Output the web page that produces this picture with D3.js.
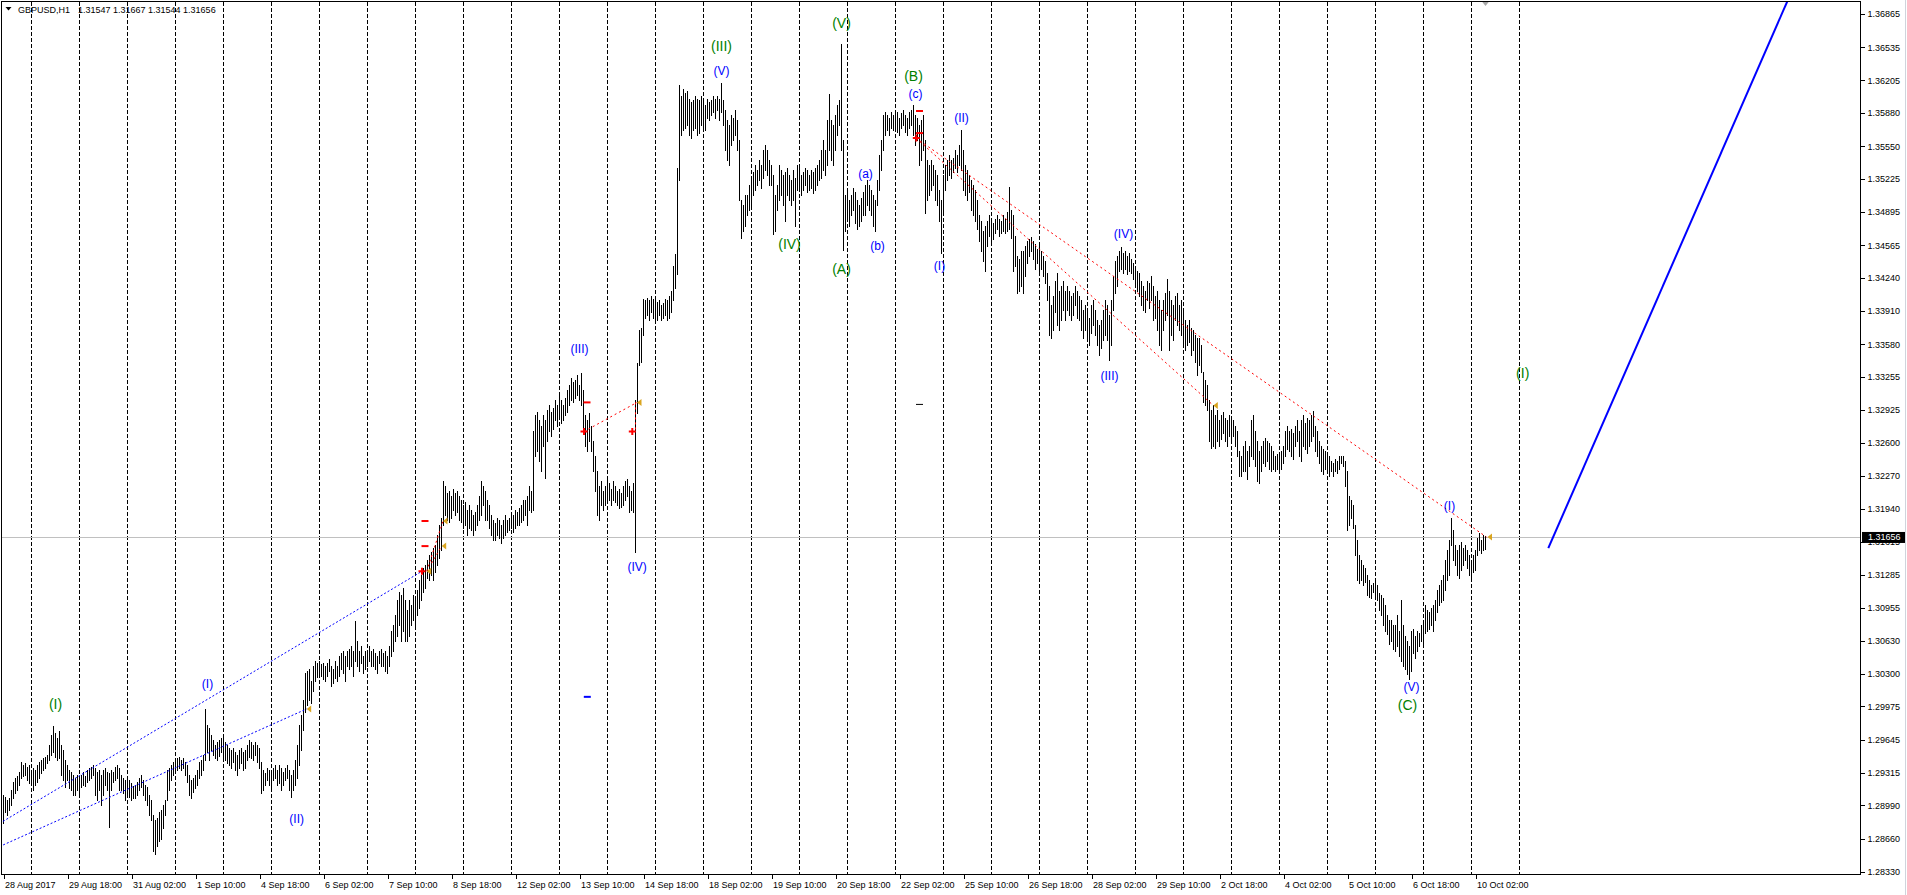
<!DOCTYPE html>
<html><head><meta charset="utf-8">
<script src="https://cdn.jsdelivr.net/npm/d3@7"></script>
<style>
html,body{margin:0;padding:0;background:#fff;overflow:hidden;}
svg{display:block;}
text{font-family:"Liberation Sans",Arial,sans-serif;}
</style></head><body>
<svg id="chart" width="1907" height="895"></svg>
<script>
// ---------------- DATA ----------------
const symbolTitle = "GBPUSD,H1";
const lastOHLC = [1.31547, 1.31667, 1.31544, 1.31656];
const bidPrice = 1.31656;

// H1 bar highs / lows (bar 0 = 28 Aug 2017 10:00)
const highs = [
1.2909,1.2907,1.2904,1.2906,1.2914,1.2922,1.2926,1.2928,1.2932,1.2942,
1.2939,1.2941,1.2937,1.2939,1.2934,1.2936,1.2934,1.2939,1.2942,1.2944,
1.2946,1.2947,1.2949,1.2959,1.2969,1.2978,1.2971,1.2966,1.2973,1.2959,
1.2954,1.2944,1.2939,1.2934,1.2932,1.2929,1.2926,1.2929,1.2924,1.2929,
1.2932,1.2928,1.2934,1.2936,1.2937,1.2939,1.2936,1.2932,1.2934,1.2929,
1.2934,1.2936,1.2932,1.2931,1.2934,1.2932,1.2937,1.2939,1.2936,1.2929,
1.2926,1.2924,1.2926,1.2924,1.2921,1.2918,1.2919,1.2922,1.2926,1.2929,
1.2924,1.2919,1.2917,1.2909,1.2904,1.2889,1.2884,1.2886,1.2892,1.2894,
1.2899,1.2904,1.2934,1.2936,1.2939,1.2942,1.2944,1.2946,1.2947,1.2944,
1.2946,1.2942,1.2939,1.2929,1.2924,1.2926,1.2929,1.2934,1.2942,1.2944,
1.2949,1.2995,1.2979,1.2976,1.2969,1.2964,1.2959,1.2962,1.2964,1.2966,
1.2966,1.2962,1.2959,1.2956,1.2954,1.2956,1.2952,1.2949,1.2954,1.2956,
1.2952,1.2954,1.2959,1.2964,1.2962,1.2959,1.2962,1.2959,1.2956,1.2942,
1.2934,1.2931,1.2936,1.2934,1.2932,1.2936,1.2939,1.2934,1.2939,1.2936,
1.2932,1.2936,1.2939,1.2934,1.2929,1.2934,1.2944,1.2959,1.2979,1.2989,
1.3004,1.3031,1.3033,1.3035,1.3023,1.3038,1.3043,1.3041,1.3043,1.3040,
1.3041,1.3038,1.3041,1.3045,1.3038,1.3035,1.3043,1.3038,1.3048,1.3051,
1.3053,1.3048,1.3053,1.3055,1.3058,1.3053,1.3082,1.3063,1.3053,1.3058,
1.3048,1.3053,1.3051,1.3058,1.3053,1.3055,1.3051,1.3048,1.3053,1.3055,
1.3051,1.3053,1.3048,1.3058,1.3073,1.3078,1.3088,1.3103,1.3111,1.3108,
1.3115,1.3103,1.3093,1.3103,1.3098,1.3108,1.3105,1.3113,1.3123,1.3128,
1.3135,1.3138,1.3143,1.3148,1.3151,1.3155,1.3158,1.3168,1.3178,1.3185,
1.3222,1.3217,1.3210,1.3212,1.3207,1.3214,1.3210,1.3212,1.3207,1.3203,
1.3198,1.3201,1.3193,1.3198,1.3193,1.3188,1.3191,1.3198,1.3207,1.3222,
1.3217,1.3212,1.3203,1.3198,1.3188,1.3183,1.3180,1.3185,1.3183,1.3178,
1.3183,1.3188,1.3183,1.3185,1.3191,1.3188,1.3193,1.3191,1.3195,1.3198,
1.3203,1.3203,1.3207,1.3217,1.3212,1.3272,1.3287,1.3290,1.3282,1.3277,
1.3287,1.3282,1.3292,1.3297,1.3290,1.3294,1.3302,1.3297,1.3307,1.3302,
1.3297,1.3304,1.3312,1.3317,1.3324,1.3320,1.3322,1.3327,1.3317,1.3329,
1.3312,1.3287,1.3282,1.3289,1.3277,1.3262,1.3247,1.3232,1.3217,1.3222,
1.3212,1.3217,1.3224,1.3220,1.3214,1.3222,1.3217,1.3212,1.3214,1.3210,
1.3217,1.3222,1.3224,1.3217,1.3212,1.3220,1.3302,1.3339,1.3372,1.3374,
1.3403,1.3402,1.3404,1.3402,1.3406,1.3403,1.3402,1.3400,1.3402,1.3397,
1.3399,1.3403,1.3402,1.3406,1.3411,1.3436,1.3448,1.3533,1.3616,1.3605,
1.3612,1.3608,1.3610,1.3602,1.3599,1.3601,1.3605,1.3602,1.3601,1.3605,
1.3601,1.3596,1.3602,1.3599,1.3601,1.3605,1.3602,1.3605,1.3602,1.3618,
1.3601,1.3591,1.3581,1.3576,1.3586,1.3583,1.3591,1.3581,1.3561,1.3501,
1.3496,1.3506,1.3506,1.3516,1.3521,1.3529,1.3536,1.3531,1.3541,1.3536,
1.3551,1.3556,1.3551,1.3541,1.3536,1.3526,1.3506,1.3516,1.3536,1.3531,
1.3526,1.3529,1.3533,1.3526,1.3521,1.3531,1.3523,1.3536,1.3533,1.3526,
1.3529,1.3533,1.3531,1.3526,1.3531,1.3529,1.3533,1.3536,1.3541,1.3551,
1.3561,1.3551,1.3581,1.3607,1.3581,1.3576,1.3586,1.3596,1.3601,1.3657,
1.3561,1.3506,1.3511,1.3501,1.3506,1.3513,1.3509,1.3501,1.3496,1.3503,
1.3509,1.3516,1.3521,1.3516,1.3511,1.3506,1.3501,1.3521,1.3546,1.3561,
1.3586,1.3589,1.3586,1.3583,1.3589,1.3586,1.3591,1.3589,1.3583,1.3588,
1.3591,1.3586,1.3583,1.3589,1.3591,1.3596,1.3586,1.3583,1.3576,1.3581,
1.3586,1.3561,1.3541,1.3536,1.3541,1.3536,1.3531,1.3526,1.3511,1.3501,
1.3526,1.3536,1.3541,1.3546,1.3541,1.3543,1.3551,1.3546,1.3556,1.3571,
1.3551,1.3536,1.3531,1.3526,1.3521,1.3516,1.3511,1.3501,1.3486,1.3481,
1.3471,1.3476,1.3481,1.3486,1.3481,1.3479,1.3483,1.3486,1.3483,1.3481,
1.3486,1.3483,1.3489,1.3514,1.3491,1.3486,1.3466,1.3446,1.3443,1.3451,
1.3451,1.3456,1.3461,1.3463,1.3465,1.3461,1.3458,1.3453,1.3456,1.3451,
1.3446,1.3441,1.3429,1.3416,1.3397,1.3406,1.3421,1.3429,1.3411,1.3416,
1.3421,1.3411,1.3416,1.3411,1.3406,1.3409,1.3416,1.3411,1.3406,1.3402,
1.3392,1.3397,1.3392,1.3384,1.3397,1.3402,1.3392,1.3382,1.3377,1.3382,
1.3392,1.3402,1.3397,1.3387,1.3402,1.3426,1.3441,1.3446,1.3451,1.3455,
1.3449,1.3451,1.3446,1.3449,1.3443,1.3439,1.3436,1.3431,1.3429,1.3421,
1.3416,1.3411,1.3421,1.3419,1.3426,1.3416,1.3406,1.3411,1.3402,1.3392,
1.3402,1.3409,1.3423,1.3411,1.3402,1.3397,1.3406,1.3409,1.3397,1.3402,
1.3392,1.3382,1.3377,1.3382,1.3374,1.3372,1.3367,1.3364,1.3364,1.3357,
1.3330,1.3322,1.3317,1.3302,1.3292,1.3297,1.3287,1.3292,1.3282,1.3287,
1.3290,1.3284,1.3282,1.3287,1.3284,1.3282,1.3277,1.3272,1.3252,1.3247,
1.3257,1.3262,1.3252,1.3257,1.3282,1.3287,1.3272,1.3262,1.3252,1.3257,
1.3262,1.3265,1.3262,1.3260,1.3257,1.3252,1.3247,1.3249,1.3247,1.3252,
1.3257,1.3272,1.3277,1.3272,1.3274,1.3270,1.3277,1.3282,1.3272,1.3282,
1.3287,1.3280,1.3284,1.3282,1.3287,1.3291,1.3277,1.3272,1.3262,1.3257,
1.3254,1.3252,1.3250,1.3247,1.3242,1.3240,1.3244,1.3242,1.3247,1.3247,
1.3247,1.3242,1.3232,1.3207,1.3203,1.3198,1.3178,1.3163,1.3148,1.3143,
1.3138,1.3135,1.3128,1.3123,1.3118,1.3120,1.3123,1.3118,1.3110,1.3108,
1.3105,1.3098,1.3088,1.3083,1.3083,1.3078,1.3078,1.3088,1.3073,1.3103,
1.3078,1.3068,1.3063,1.3058,1.3073,1.3075,1.3068,1.3073,1.3071,1.3078,
1.3083,1.3098,1.3093,1.3091,1.3095,1.3098,1.3103,1.3113,1.3118,1.3123,
1.3128,1.3143,1.3153,1.3163,1.3185,1.3173,1.3158,1.3153,1.3158,1.3161,
1.3155,1.3158,1.3153,1.3148,1.3143,1.3148,1.3153,1.3165,1.3170,1.3163,
1.31680,1.31667];

const lows = [
1.2881,1.2892,1.2889,1.2894,1.2899,1.2906,1.2911,1.2914,1.2919,1.2926,
1.2928,1.2929,1.2924,1.2921,1.2921,1.2914,1.2919,1.2922,1.2926,1.2931,
1.2934,1.2936,1.2941,1.2944,1.2949,1.2952,1.2947,1.2944,1.2946,1.2929,
1.2924,1.2917,1.2924,1.2916,1.2914,1.2909,1.2909,1.2914,1.2911,1.2917,
1.2919,1.2918,1.2922,1.2924,1.2926,1.2929,1.2909,1.2904,1.2914,1.2899,
1.2909,1.2919,1.2914,1.2877,1.2914,1.2922,1.2924,1.2926,1.2914,1.2914,
1.2911,1.2904,1.2909,1.2907,1.2904,1.2906,1.2906,1.2909,1.2914,1.2917,
1.2909,1.2904,1.2899,1.2889,1.2884,1.2854,1.2851,1.2859,1.2864,1.2866,
1.2876,1.2889,1.2904,1.2914,1.2924,1.2929,1.2932,1.2934,1.2936,1.2934,
1.2936,1.2929,1.2922,1.2909,1.2906,1.2912,1.2916,1.2919,1.2926,1.2929,
1.2934,1.2944,1.2952,1.2944,1.2954,1.2949,1.2946,1.2944,1.2948,1.2952,
1.2946,1.2944,1.2941,1.2939,1.2936,1.2942,1.2934,1.2929,1.2936,1.2941,
1.2934,1.2936,1.2944,1.2947,1.2946,1.2944,1.2949,1.2942,1.2936,1.2911,
1.2914,1.2919,1.2924,1.2919,1.2916,1.2924,1.2926,1.2919,1.2921,1.2914,
1.2919,1.2924,1.2926,1.2914,1.2907,1.2914,1.2919,1.2926,1.2939,1.2954,
1.2974,1.2992,1.2999,1.3004,1.3001,1.3013,1.3023,1.3027,1.3031,1.3028,
1.3025,1.3023,1.3028,1.3033,1.3018,1.3021,1.3026,1.3023,1.3028,1.3035,
1.3031,1.3023,1.3038,1.3035,1.3038,1.3028,1.3043,1.3038,1.3033,1.3041,
1.3031,1.3035,1.3038,1.3043,1.3038,1.3038,1.3035,1.3031,1.3041,1.3038,
1.3038,1.3033,1.3031,1.3038,1.3048,1.3053,1.3063,1.3068,1.3078,1.3063,
1.3073,1.3063,1.3063,1.3068,1.3078,1.3083,1.3078,1.3088,1.3095,1.3103,
1.3111,1.3115,1.3125,1.3123,1.3128,1.3123,1.3131,1.3138,1.3145,1.3153,
1.3178,1.3188,1.3183,1.3181,1.3185,1.3193,1.3188,1.3191,1.3183,1.3181,
1.3175,1.3178,1.3168,1.3175,1.3173,1.3168,1.3173,1.3178,1.3183,1.3188,
1.3198,1.3183,1.3183,1.3175,1.3168,1.3163,1.3163,1.3168,1.3165,1.3160,
1.3165,1.3168,1.3171,1.3173,1.3175,1.3171,1.3175,1.3178,1.3178,1.3181,
1.3183,1.3188,1.3178,1.3193,1.3191,1.3193,1.3247,1.3252,1.3242,1.3232,
1.3257,1.3225,1.3262,1.3272,1.3267,1.3274,1.3282,1.3277,1.3284,1.3280,
1.3282,1.3287,1.3290,1.3297,1.3302,1.3300,1.3304,1.3307,1.3302,1.3297,
1.3272,1.3257,1.3252,1.3262,1.3252,1.3232,1.3212,1.3188,1.3183,1.3198,
1.3193,1.3198,1.3204,1.3203,1.3198,1.3203,1.3201,1.3198,1.3195,1.3196,
1.3198,1.3203,1.3207,1.3191,1.3193,1.3191,1.3151,1.3289,1.3337,1.3340,
1.3367,1.3384,1.3387,1.3382,1.3390,1.3384,1.3380,1.3382,1.3387,1.3382,
1.3384,1.3387,1.3382,1.3384,1.3390,1.3402,1.3414,1.3428,1.3521,1.3566,
1.3571,1.3573,1.3576,1.3566,1.3563,1.3571,1.3573,1.3566,1.3568,1.3576,
1.3571,1.3571,1.3583,1.3581,1.3586,1.3589,1.3583,1.3591,1.3581,1.3589,
1.3576,1.3551,1.3541,1.3536,1.3556,1.3561,1.3566,1.3551,1.3501,1.3464,
1.3471,1.3476,1.3486,1.3491,1.3496,1.3506,1.3511,1.3516,1.3521,1.3513,
1.3523,1.3531,1.3526,1.3516,1.3516,1.3468,1.3471,1.3491,1.3501,1.3506,
1.3496,1.3481,1.3506,1.3501,1.3496,1.3501,1.3476,1.3511,1.3513,1.3506,
1.3511,1.3516,1.3509,1.3511,1.3513,1.3508,1.3511,1.3516,1.3521,1.3523,
1.3531,1.3526,1.3536,1.3551,1.3541,1.3536,1.3551,1.3566,1.3576,1.3551,
1.3452,1.3471,1.3481,1.3476,1.3486,1.3491,1.3479,1.3473,1.3476,1.3481,
1.3486,1.3486,1.3496,1.3491,1.3486,1.3476,1.3471,1.3496,1.3511,1.3531,
1.3551,1.3566,1.3571,1.3566,1.3573,1.3571,1.3573,1.3569,1.3566,1.3573,
1.3576,1.3569,1.3566,1.3573,1.3576,1.3566,1.3556,1.3561,1.3536,1.3541,
1.3551,1.3488,1.3501,1.3506,1.3511,1.3516,1.3501,1.3496,1.3481,1.3449,
1.3486,1.3511,1.3521,1.3526,1.3523,1.3529,1.3533,1.3529,1.3536,1.3531,
1.3511,1.3506,1.3501,1.3509,1.3491,1.3486,1.3481,1.3473,1.3461,1.3451,
1.3441,1.3431,1.3456,1.3466,1.3461,1.3463,1.3469,1.3473,1.3466,1.3469,
1.3471,1.3469,1.3471,1.3473,1.3464,1.3431,1.3436,1.3409,1.3411,1.3416,
1.3409,1.3426,1.3439,1.3446,1.3451,1.3443,1.3433,1.3439,1.3429,1.3433,
1.3426,1.3419,1.3402,1.3367,1.3364,1.3372,1.3390,1.3377,1.3372,1.3382,
1.3392,1.3382,1.3392,1.3387,1.3382,1.3387,1.3397,1.3384,1.3382,1.3372,
1.3364,1.3372,1.3362,1.3357,1.3369,1.3377,1.3367,1.3357,1.3347,1.3354,
1.3362,1.3367,1.3362,1.3342,1.3357,1.3392,1.3409,1.3416,1.3431,1.3433,
1.3429,1.3433,1.3428,1.3431,1.3429,1.3423,1.3419,1.3411,1.3406,1.3397,
1.3392,1.3390,1.3402,1.3394,1.3402,1.3382,1.3384,1.3372,1.3357,1.3352,
1.3372,1.3382,1.3387,1.3352,1.3367,1.3362,1.3382,1.3377,1.3372,1.3367,
1.3357,1.3352,1.3357,1.3360,1.3347,1.3352,1.3340,1.3327,1.3337,1.3330,
1.3300,1.3297,1.3292,1.3262,1.3255,1.3257,1.3255,1.3262,1.3257,1.3264,
1.3270,1.3262,1.3257,1.3267,1.3262,1.3267,1.3257,1.3247,1.3227,1.3227,
1.3232,1.3232,1.3224,1.3237,1.3247,1.3244,1.3237,1.3222,1.3220,1.3232,
1.3240,1.3237,1.3242,1.3234,1.3232,1.3234,1.3232,1.3234,1.3232,1.3234,
1.3240,1.3247,1.3254,1.3252,1.3247,1.3244,1.3257,1.3262,1.3247,1.3242,
1.3257,1.3254,1.3250,1.3257,1.3262,1.3267,1.3252,1.3247,1.3240,1.3232,
1.3229,1.3234,1.3232,1.3227,1.3232,1.3227,1.3232,1.3230,1.3234,1.3240,
1.3237,1.3217,1.3173,1.3178,1.3185,1.3175,1.3148,1.3123,1.3120,1.3123,
1.3118,1.3121,1.3108,1.3106,1.3105,1.3111,1.3108,1.3103,1.3093,1.3088,
1.3078,1.3073,1.3070,1.3060,1.3063,1.3055,1.3053,1.3058,1.3048,1.3043,
1.3038,1.3035,1.3030,1.3025,1.3033,1.3051,1.3046,1.3053,1.3058,1.3063,
1.3058,1.3071,1.3073,1.3075,1.3078,1.3073,1.3083,1.3091,1.3098,1.3101,
1.3103,1.3113,1.3123,1.3128,1.3158,1.3143,1.3138,1.3128,1.3125,1.3133,
1.3138,1.3143,1.3135,1.3128,1.3126,1.3131,1.3133,1.3148,1.3153,1.3150,
1.3153,1.31544];

const priceTicks = [1.36865,1.36535,1.36205,1.35880,1.35550,1.35225,1.34895,1.34565,1.34240,
  1.33910,1.33580,1.33255,1.32925,1.32600,1.32270,1.31940,1.31615,1.31285,1.30955,1.30630,
  1.30300,1.29975,1.29645,1.29315,1.28990,1.28660,1.28330];

const timeTickBars = [0,32,64,96,128,160,192,224,256,288,320,352,384,416,448,480,512,544,576,608,640,672,704,736];
const timeLabels = ["28 Aug 2017","29 Aug 18:00","31 Aug 02:00","1 Sep 10:00","4 Sep 18:00","6 Sep 02:00",
  "7 Sep 10:00","8 Sep 18:00","12 Sep 02:00","13 Sep 10:00","14 Sep 18:00","18 Sep 02:00","19 Sep 10:00",
  "20 Sep 18:00","22 Sep 02:00","25 Sep 10:00","26 Sep 18:00","28 Sep 02:00","29 Sep 10:00","2 Oct 18:00",
  "4 Oct 02:00","5 Oct 10:00","6 Oct 18:00","10 Oct 02:00"];
// bar index of each day start (period separators)
const dayStarts = [14,38,62,86,110,134,158,182,206,230,254,278,302,326,350,374,398,422,446,470,494,518,
  542,566,590,614,638,662,686,710,734,758];

// Elliott wave labels: [text, bar index, price]
const greenWaves = [["(I)",26,1.3000],["(III)",77,1.2823],["(III)",359,1.3655],["(V)",419,1.3678],
  ["(IV)",393,1.3458],["(A)",419,1.3433],["(B)",455,1.3625],["(C)",702,1.2999],["(I)",759.6,1.3329]];
const blueWaves = [["(I)",102,1.3020],["(II)",146.6,1.2885],["(III)",288,1.3353],["(IV)",316.8,1.3136],
  ["(V)",359,1.3630],["(a)",431,1.3527],["(b)",437,1.3456],["(c)",456,1.3607],["(I)",468,1.3436],
  ["(II)",479,1.3583],["(III)",553,1.3326],["(IV)",560,1.3468],["(V)",704,1.3017],["(I)",723,1.3197]];

// trend lines: [bar1, price1, bar2, price2]
const blueDotLines = [[-2,1.2881,209.25,1.3132],[-2,1.2858,151.6,1.2995]];
const redDotLines = [[211.6,1.3132,219.75,1.3182],[214,1.3140,219.1,1.3157],[290.25,1.3271,316.75,1.3300],
  [316,1.3300,316,1.3272],[456.25,1.3563,741.5,1.3166],[456.25,1.3563,604.9,1.3297]];
const blueSolidLines = [[772.4,1.3155,892.1,1.3700]];

// arrow objects: [bar, price]
const redCrosses = [[209.25,1.3132],[290.25,1.3271],[314.4,1.3271],[456.4,1.3563]];
const goldArrows = [[151.6,1.2995],[211.6,1.3132],[219.1,1.3157],[219.75,1.3182],[316.75,1.3300],[604.9,1.3297],[742,1.3166]];
const redDashes = [[210.75,1.3182],[210.75,1.3157],[291.75,1.3300],[458,1.3590],[458,1.3568]];
const blackDashes = [[458,1.3298]];
const blueDashes = [[291.9,1.3007]];

// ---------------- DRAW ----------------
const W = 1907, H = 895;
const plotR = 1860.5, plotB = 874.5;
const x = d3.scaleLinear().domain([0, 758]).range([3.5, 1519.5]);
const y = d3.scaleLinear().domain([1.28330, 1.36865]).range([871.7, 14]);

const svg = d3.select("#chart");
svg.append("rect").attr("width", W).attr("height", H).attr("fill", "#fff");
svg.append("defs").append("clipPath").attr("id", "clip")
  .append("rect").attr("x", 2).attr("y", 2).attr("width", plotR - 2.5).attr("height", plotB - 2.5);
const g = svg.append("g").attr("clip-path", "url(#clip)");

// period separators
g.append("g").selectAll("line").data(dayStarts).join("line")
  .attr("x1", d => x(d)).attr("x2", d => x(d)).attr("y1", 2).attr("y2", plotB)
  .attr("stroke", "#000").attr("stroke-width", 1).attr("stroke-dasharray", "4,2")
  .attr("shape-rendering", "crispEdges");

// bid line
g.append("line").attr("x1", 0).attr("x2", plotR).attr("y1", Math.round(y(bidPrice)) + 0.5).attr("y2", Math.round(y(bidPrice)) + 0.5)
  .attr("stroke", "#c0c0c0").attr("stroke-width", 1);

// bars
const bars = highs.map((h, i) => ({i, h, l: lows[i]}));
g.append("g").selectAll("line").data(bars).join("line")
  .attr("x1", d => x(d.i)).attr("x2", d => x(d.i))
  .attr("y1", d => Math.round(y(d.h))).attr("y2", d => Math.round(y(d.l)) + 1)
  .attr("stroke", "#000").attr("stroke-width", 1).attr("shape-rendering", "crispEdges");

// trend lines
function drawLines(data, color, width, dash) {
  g.append("g").selectAll("line").data(data).join("line")
    .attr("x1", d => x(d[0])).attr("y1", d => y(d[1]))
    .attr("x2", d => x(d[2])).attr("y2", d => y(d[3]))
    .attr("stroke", color).attr("stroke-width", width)
    .attr("stroke-dasharray", dash || null);
}
drawLines(blueDotLines, "#0000ff", 1, "2,2");
drawLines(redDotLines, "#ff0000", 1, "2,3");
drawLines(blueSolidLines, "#0000ff", 2, null);

// arrows / markers
g.append("g").selectAll("path").data(redCrosses).join("path")
  .attr("d", d => { const cx = x(d[0]), cy = y(d[1]); return `M${cx-3.5},${cy}H${cx+3.5}M${cx},${cy-3.5}V${cy+3.5}`; })
  .attr("stroke", "#ff0000").attr("stroke-width", 2).attr("fill", "none");
g.append("g").selectAll("path").data(goldArrows).join("path")
  .attr("d", d => { const cx = x(d[0]), cy = y(d[1]); return `M${cx},${cy}L${cx+4.5},${cy-3.5}L${cx+4.5},${cy+3.5}Z`; })
  .attr("fill", "#daa520");
function dashes(data, color, w) {
  g.append("g").selectAll("line").data(data).join("line")
    .attr("x1", d => x(d[0]) - 3.5).attr("x2", d => x(d[0]) + 3.5)
    .attr("y1", d => y(d[1])).attr("y2", d => y(d[1]))
    .attr("stroke", color).attr("stroke-width", w);
}
dashes(redDashes, "#ff0000", 2);
dashes(blackDashes, "#000", 1);
dashes(blueDashes, "#0000ff", 2);

// wave labels
function waveLabels(data, color, size) {
  g.append("g").selectAll("text").data(data).join("text")
    .attr("x", d => x(d[1])).attr("y", d => y(d[2]))
    .attr("text-anchor", "middle").attr("dominant-baseline", "central")
    .attr("font-size", size).attr("fill", color).text(d => d[0]);
}
waveLabels(greenWaves, "#008000", 14);
waveLabels(blueWaves, "#0000ff", 12);

// chart shift marker
g.append("path")
  .attr("d", `M${x(741)-4},1L${x(741)+4},1L${x(741)},6Z`).attr("fill", "#a8a8a8");

// frame
svg.append("rect").attr("x", 1.5).attr("y", 1.5).attr("width", plotR - 1.5).attr("height", plotB - 1.5)
  .attr("fill", "none").attr("stroke", "#000").attr("stroke-width", 1).attr("shape-rendering", "crispEdges");

// price axis
const yAxis = svg.append("g").attr("transform", `translate(${plotR},0)`)
  .call(d3.axisRight(y).tickValues(priceTicks).tickSize(4).tickPadding(3).tickFormat(d3.format(".5f")));
yAxis.select(".domain").remove();
yAxis.selectAll("line").attr("stroke", "#000").attr("shape-rendering", "crispEdges");
yAxis.selectAll("text").attr("font-size", 9).attr("fill", "#000").attr("font-family", "Liberation Sans, Arial, sans-serif");

// time axis
const xAxis = svg.append("g").attr("transform", `translate(0,${plotB})`)
  .call(d3.axisBottom(x).tickValues(timeTickBars).tickSize(4).tickPadding(3)
    .tickFormat((d, i) => timeLabels[i]));
xAxis.select(".domain").remove();
xAxis.selectAll("line").attr("stroke", "#000").attr("shape-rendering", "crispEdges");
xAxis.selectAll("text").attr("font-size", 9).attr("fill", "#000").attr("text-anchor", "start").attr("x", 1)
  .attr("font-family", "Liberation Sans, Arial, sans-serif");

// bid price label box
const by = y(bidPrice);
svg.append("rect").attr("x", 1862).attr("y", by - 5.5).attr("width", 43).attr("height", 11).attr("fill", "#000");
svg.append("text").attr("x", 1868).attr("y", by).attr("dominant-baseline", "central")
  .attr("font-size", 9).attr("fill", "#fff").text(d3.format(".5f")(bidPrice));

// window edge
svg.append("line").attr("x1", 1905.5).attr("x2", 1905.5).attr("y1", 0).attr("y2", H)
  .attr("stroke", "#d0d4dc").attr("stroke-width", 1);

// title
svg.append("path").attr("d", "M5.5,7L11.5,7L8.5,10.5Z").attr("fill", "#000");
svg.append("text").attr("x", 18).attr("y", 13).attr("font-size", 9).attr("fill", "#000").text(symbolTitle);
svg.append("text").attr("x", 78).attr("y", 13).attr("font-size", 9).attr("fill", "#000")
  .text(lastOHLC.map(d3.format(".5f")).join(" "));
</script>
</body></html>
